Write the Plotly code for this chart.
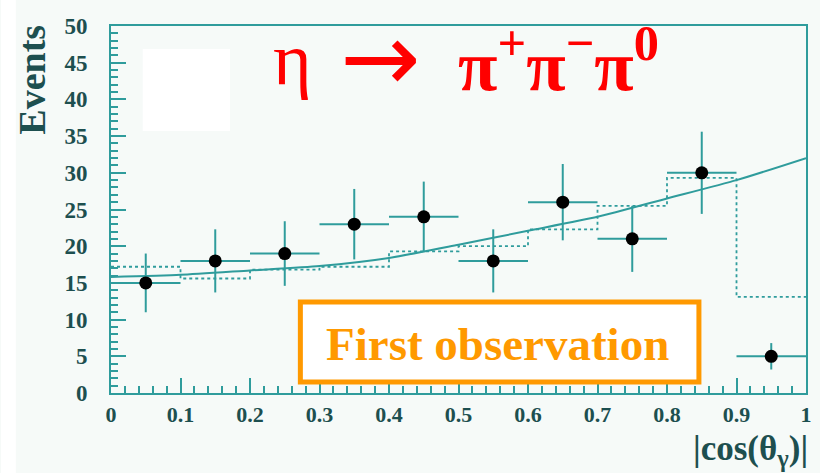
import plotly.graph_objects as go

# ---- data ----
bin_centers = [0.05, 0.15, 0.25, 0.35, 0.45, 0.55, 0.65, 0.75, 0.85, 0.95]
events = [15, 18, 19, 23, 24, 18, 26, 21, 30, 5]
events_err = [4.0, 4.3, 4.4, 4.8, 4.8, 4.3, 5.2, 4.5, 5.6, 1.8]
bin_halfwidth = [0.05, 0.05, 0.05, 0.05, 0.05, 0.05, 0.05, 0.05, 0.05, 0.05]

bin_edges = [0.0, 0.1, 0.2, 0.3, 0.4, 0.5, 0.6, 0.7, 0.8, 0.9, 1.0]
mc_hist = [17.2, 15.6, 16.8, 17.2, 19.3, 20.0, 22.3, 25.5, 29.3, 13.1]

fit_x = [0.0, 0.1, 0.2, 0.3, 0.4, 0.5, 0.6, 0.7, 0.8, 0.9, 1.0]
fit_y = [15.8, 16.1, 16.7, 17.3, 18.4, 20.2, 22.1, 24.0, 26.5, 29.0, 32.0]

x_ticks = [0, 0.1, 0.2, 0.3, 0.4, 0.5, 0.6, 0.7, 0.8, 0.9, 1]
x_ticklabels = ["0", "0.1", "0.2", "0.3", "0.4", "0.5", "0.6", "0.7", "0.8", "0.9", "1"]
y_ticks = [0, 5, 10, 15, 20, 25, 30, 35, 40, 45, 50]

TEAL = "#2f9c9c"
TEXT = "#1d4f4f"
SERIF = "Liberation Serif"

fig = go.Figure()

# MC histogram (dashed step)
fig.add_trace(go.Scatter(
    x=bin_edges, y=mc_hist + [mc_hist[-1]], mode="lines",
    line=dict(color=TEAL, width=1.8, dash="dot", shape="hv"),
    hoverinfo="skip", showlegend=False))

# fit curve
fig.add_trace(go.Scatter(
    x=fit_x, y=fit_y, mode="lines",
    line=dict(color=TEAL, width=2, shape="spline", smoothing=0.6),
    hoverinfo="skip", showlegend=False))

# data points
fig.add_trace(go.Scatter(
    x=bin_centers, y=events, mode="markers",
    marker=dict(color="black", size=13, symbol="circle"),
    error_y=dict(type="data", array=events_err, color=TEAL, thickness=2, width=0),
    error_x=dict(type="data", array=bin_halfwidth, color=TEAL, thickness=2, width=0),
    showlegend=False))

fig.update_layout(
    width=820, height=473,
    margin=dict(l=111, r=8, t=26, b=80),
    paper_bgcolor="#f6faf8", plot_bgcolor="#f6faf8",
    xaxis=dict(range=[0, 1], showgrid=False, zeroline=False,
               showline=True, linecolor=TEAL, linewidth=2, mirror=True,
               ticks="inside", ticklen=15, tickwidth=2, tickcolor=TEAL,
               tickvals=x_ticks, ticktext=x_ticklabels,
               tickfont=dict(family=SERIF, size=22, color=TEXT, weight="bold"),
               ticklabelstandoff=1,
               minor=dict(ticks="inside", ticklen=7, tickwidth=1.5, tickcolor=TEAL, dtick=0.02)),
    yaxis=dict(range=[0, 50], showgrid=False, zeroline=False,
               showline=True, linecolor=TEAL, linewidth=2, mirror=True,
               ticks="inside", ticklen=15, tickwidth=2, tickcolor=TEAL,
               tickvals=y_ticks,
               tickfont=dict(family=SERIF, size=23, color=TEXT, weight="bold"),
               ticklabelstandoff=17,
               minor=dict(ticks="inside", ticklen=7, tickwidth=1.5, tickcolor=TEAL, dtick=1)),
)

L, R, T, B = 111, 812, 26, 393


def px(x):
    return (x - L) / (R - L)


def py(y):
    return (B - y) / (B - T)


shapes = [
    # white strip at left edge
    dict(type="rect", xref="paper", yref="paper", x0=px(0), x1=px(15),
         y0=py(473), y1=py(0), fillcolor="white", line=dict(width=0), layer="below"),
    # white box top-left
    dict(type="rect", xref="paper", yref="paper", x0=px(143), x1=px(231), y0=py(131), y1=py(49),
         fillcolor="white", line=dict(width=0)),
    # orange box
    dict(type="rect", xref="paper", yref="paper", x0=px(302), x1=px(704), y0=py(382), y1=py(302),
         fillcolor="white", line=dict(color="#ff9900", width=5)),
]
fig.update_layout(shapes=shapes)

annotations = [
    dict(text="η", xref="paper", yref="paper",
         x=px(294), y=py(59), xanchor="center", yanchor="middle", showarrow=False,
         font=dict(family=SERIF, size=74, color="#ff0000")),
    dict(text="→", xref="paper", yref="paper",
         x=px(382), y=py(58), xanchor="center", yanchor="middle", showarrow=False,
         font=dict(family="DejaVu Sans", size=96, color="#ff0000")),
    dict(text="<b>π<sup>+</sup>π<sup>−</sup>π<sup>0</sup></b>", xref="paper", yref="paper",
         x=px(459), y=py(60), xanchor="left", yanchor="middle", showarrow=False,
         font=dict(family=SERIF, size=72, color="#ff0000")),
    dict(text="First observation", xref="paper", yref="paper",
         x=px(501), y=py(344), xanchor="center", yanchor="middle", showarrow=False,
         font=dict(family=SERIF, size=47, color="#ff9900", weight="bold")),
    dict(text="Events", xref="paper", yref="paper", textangle=-90,
         x=px(31), y=py(80), xanchor="center", yanchor="middle", showarrow=False,
         font=dict(family=SERIF, size=38, color=TEXT, weight="bold")),
    dict(text="|cos(θ<sub>γ</sub>)|", xref="paper", yref="paper",
         x=px(815), y=py(473), xanchor="right", yanchor="bottom", showarrow=False,
         borderpad=0,
         font=dict(family=SERIF, size=35, color=TEXT, weight="bold")),
]
fig.update_layout(annotations=annotations)

fig.write_html("out.html")
